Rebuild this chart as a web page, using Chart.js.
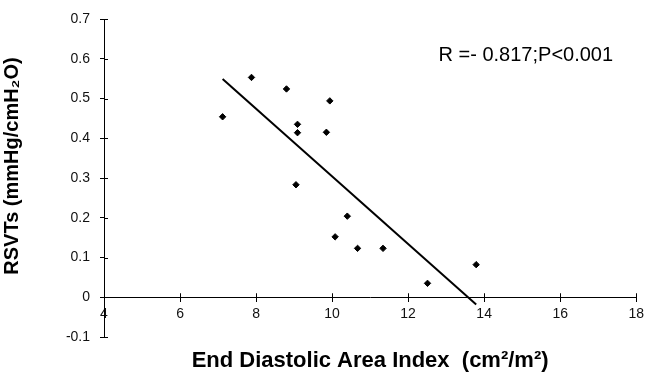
<!DOCTYPE html>
<html>
<head>
<meta charset="utf-8">
<script src="https://cdn.jsdelivr.net/npm/chart.js@4"></script>
<style>
  html, body { margin: 0; padding: 0; background: #fff; }
  #wrap { width: 648px; height: 381px; }
</style>
</head>
<body>
<div id="wrap"><canvas id="myChart"></canvas></div>
<script>
// values
const edai = [7.12, 7.88, 8.80, 9.94, 9.09, 9.09, 9.85, 9.05, 10.40, 10.08, 10.67, 11.34, 12.51, 13.79];
const rsvts = [0.454, 0.553, 0.524, 0.494, 0.435, 0.414, 0.415, 0.283, 0.204, 0.152, 0.123, 0.123, 0.035, 0.082];
// regression line end points
const fitX = [7.12, 13.79];
const fitY = [0.549, -0.018];

const yTickLabels = ['-0.1', '0', '0.1', '0.2', '0.3', '0.4', '0.5', '0.6', '0.7'];
const yTitle = 'RSVTs (mmHg/cmH\u2082O)';
const xTitle = 'End Diastolic Area Index  (cm\u00b2/m\u00b2)';
const statText = 'R =- 0.817;P<0.001';

const FONT = "'Liberation Sans', Arial, sans-serif";

const points = edai.map((x, i) => ({ x: x, y: rsvts[i] }));
const fitLine = fitX.map((x, i) => ({ x: x, y: fitY[i] }));

// tick marks that cross the axis lines, y title and the R/P note
const extras = {
    id: 'extras',
    afterDraw(chart) {
        const ctx = chart.ctx;
        const xs = chart.scales.x, ys = chart.scales.y;
        const x0 = xs.left, y0 = ys.getPixelForValue(0);
        ctx.save();
        ctx.strokeStyle = '#000';
        ctx.lineWidth = 1;
        ctx.beginPath();
        xs.ticks.forEach(t => {
            const px = Math.round(xs.getPixelForValue(t.value)) + 0.5;
            ctx.moveTo(px, y0);
            ctx.lineTo(px, y0 - 4);
        });
        ys.ticks.forEach(t => {
            const py = Math.round(ys.getPixelForValue(t.value)) + 0.5;
            ctx.moveTo(x0, py);
            ctx.lineTo(x0 + 4, py);
        });
        ctx.stroke();

        ctx.fillStyle = '#000';
        ctx.font = '20px ' + FONT;
        ctx.textAlign = 'left';
        ctx.textBaseline = 'middle';
        ctx.fillText(statText, xs.getPixelForValue(12.8), ys.getPixelForValue(0.607));

        const ca = chart.chartArea;
        ctx.translate(12.5, (ca.top + ca.bottom) / 2 - 12);
        ctx.rotate(-Math.PI / 2);
        ctx.font = 'bold 20px ' + FONT;
        ctx.textAlign = 'center';
        ctx.fillText(yTitle, 0, 0);
        ctx.restore();
    }
};

new Chart(document.getElementById('myChart'), {
    type: 'scatter',
    data: {
        datasets: [
            {
                data: points,
                pointStyle: 'rectRot',
                pointRadius: 3.2,
                pointBackgroundColor: '#000',
                pointBorderColor: '#000',
                pointBorderWidth: 1,
                showLine: false
            },
            {
                type: 'line',
                data: fitLine,
                borderColor: '#000',
                borderWidth: 2,
                pointRadius: 0,
                fill: false
            }
        ]
    },
    options: {
        responsive: true,
        maintainAspectRatio: false,
        animation: false,
        layout: { padding: { top: 19, right: 9, left: 0, bottom: 44 } },
        plugins: { legend: { display: false }, tooltip: { enabled: false } },
        scales: {
            x: {
                type: 'linear',
                position: { y: 0 },
                min: 4,
                max: 18,
                afterFit: s => { s.height = 44; },
                ticks: {
                    stepSize: 2,
                    padding: 4,
                    color: '#111',
                    font: { family: FONT, size: 14 },
                    maxRotation: 0
                },
                grid: { drawOnChartArea: false, drawTicks: true, tickLength: 4, color: '#000' },
                border: { display: true, color: '#000', width: 1 },
                title: {
                    display: true,
                    text: xTitle,
                    color: '#000',
                    font: { family: FONT, size: 22, weight: 'bold' },
                    padding: { top: 0, bottom: -33 }
                }
            },
            y: {
                type: 'linear',
                min: -0.1,
                max: 0.7,
                afterFit: s => { s.width = 104; },
                ticks: {
                    stepSize: 0.1,
                    padding: 10,
                    color: '#111',
                    font: { family: FONT, size: 14 },
                    callback: (v, i) => yTickLabels[i]
                },
                grid: { drawOnChartArea: false, drawTicks: true, tickLength: 4, color: '#000' },
                border: { display: true, color: '#000', width: 1 }
            }
        }
    },
    plugins: [extras]
});
</script>
</body>
</html>
